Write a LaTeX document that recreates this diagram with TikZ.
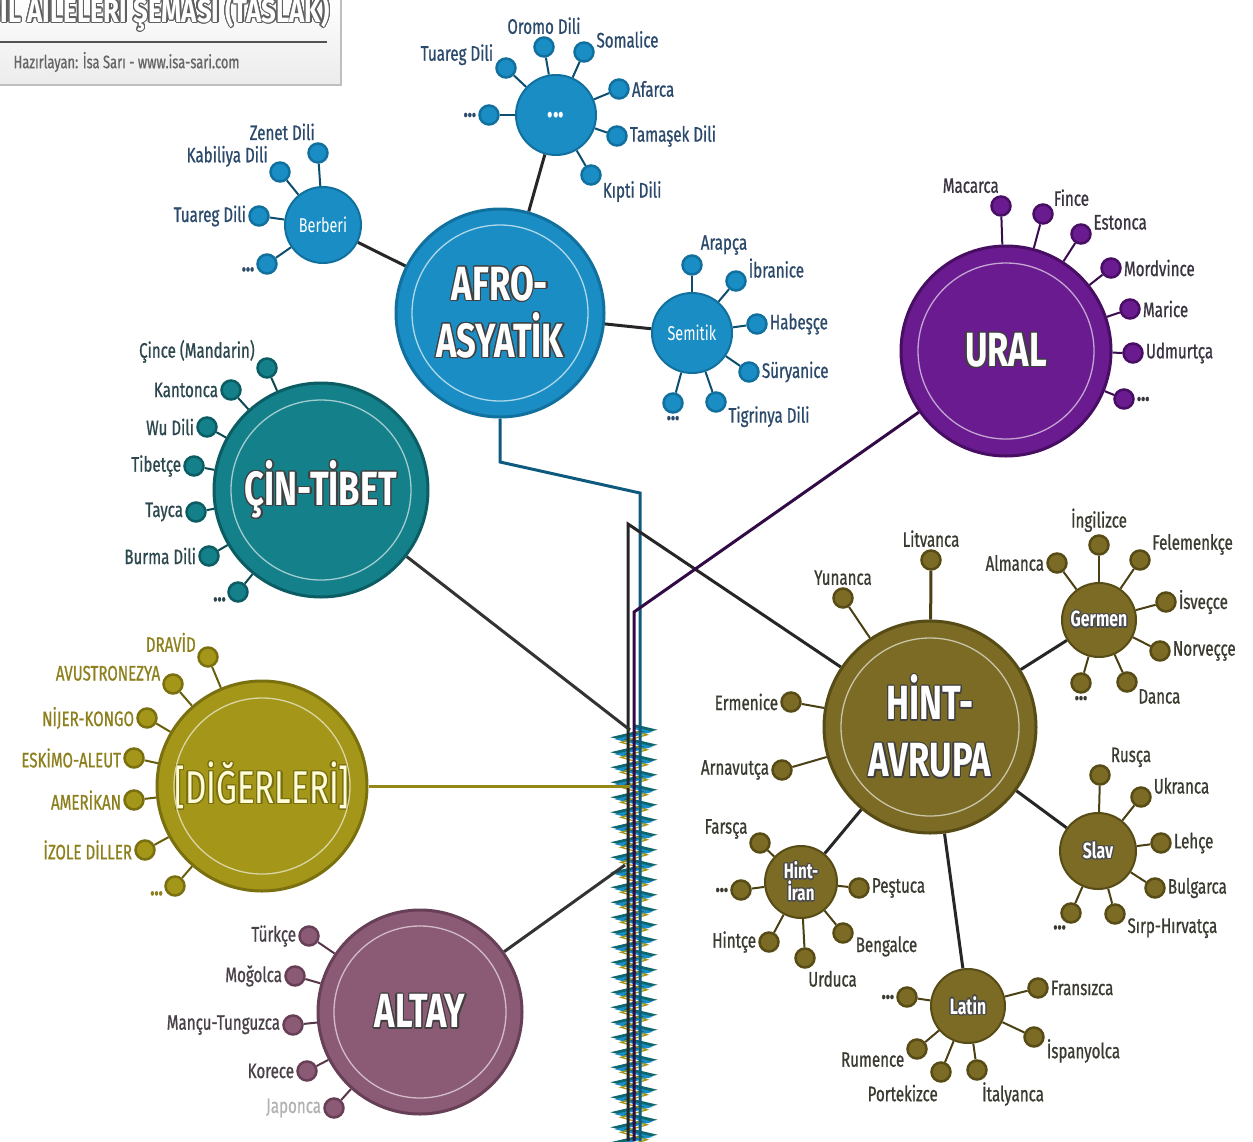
\documentclass[tikz,border=0pt]{standalone}
\usepackage{fontspec}
\setmainfont{Fira Sans}[FakeStretch=0.72]
\newfontfamily\lblfont{Fira Sans}[FakeStretch=0.72, FakeBold=0.8]
\newfontfamily\titlefont{Fira Sans}[FakeStretch=0.78]
\usepackage{contour}
\usetikzlibrary{backgrounds,decorations.pathmorphing}
\definecolor{cB}{HTML}{1A8DC4}\definecolor{dB}{HTML}{12709E}
\definecolor{cT}{HTML}{13808A}\definecolor{dT}{HTML}{0C5C64}
\definecolor{cP}{HTML}{6A1B8F}\definecolor{dP}{HTML}{470E63}
\definecolor{cO}{HTML}{7B6B25}\definecolor{dO}{HTML}{574B16}
\definecolor{cG}{HTML}{A39618}\definecolor{dG}{HTML}{7A700F}
\definecolor{cM}{HTML}{8B5A75}\definecolor{dM}{HTML}{673F56}
\definecolor{lblB}{HTML}{2B4A6B}\definecolor{lblT}{HTML}{2C474E}
\definecolor{lblP}{HTML}{3A3340}\definecolor{lblO}{HTML}{3B3A30}
\definecolor{lblG}{HTML}{8C7F1C}\definecolor{lblM}{HTML}{4A4048}
\newcommand\lf[5]{\node[#1, label={[lab#1]#4:#5}] (#2) at (#3) {};}
\newcommand\dd{\textbf{\fontsize{24}{22}\selectfont ...}}
\tikzset{
  x=1pt, y=-1pt,
  bigc/.style 2 args={circle, fill=#1, draw=#2, line width=3pt, inner sep=0pt, text=white},
  subc/.style 2 args={circle, fill=#1, draw=#2, line width=2pt, inner sep=0pt, text=white},
  leafc/.style 2 args={circle, fill=#1, draw=#2, line width=2.5pt, minimum size=19pt, inner sep=0pt},
  lB/.style={leafc={cB}{dB}}, lT/.style={leafc={cT}{dT}}, lP/.style={leafc={cP}{dP}},
  lO/.style={leafc={cO}{dO}}, lG/.style={leafc={cG}{dG}}, lM/.style={leafc={cM}{dM}},
  labbase/.style={font=\lblfont\fontsize{21}{22}\selectfont, inner sep=1pt, label distance=1pt},
  lablB/.style={labbase, text=lblB}, lablT/.style={labbase, text=lblT},
  lablP/.style={labbase, text=lblP}, lablO/.style={labbase, text=lblO},
  lablG/.style={labbase, text=lblG}, lablM/.style={labbase, text=lblM},
  twig/.style={line width=2pt, draw=#1},
  link/.style={line width=3pt, draw=black!85},
  ring/.style={line width=1.3pt, draw=#1},
  bigfont/.style={font=\fontsize{48}{57}\selectfont\bfseries, align=center},
  subfont/.style={font=\fontsize{22}{24}\selectfont\bfseries, align=center},
  spring/.style={decorate, decoration={zigzag, segment length=15pt, amplitude=#1}},
}
\begin{document}
\begin{tikzpicture}
\clip (0,0) rectangle (1253,1141);
\contourlength{1.3pt}
% title box
\node[anchor=north west, minimum width=348pt, minimum height=90pt, draw=gray!50, line width=1.5pt, top color=white, bottom color=gray!15, inner sep=0pt] (tbox) at (-8,-6) {};
\node[anchor=base east, font=\titlefont\fontsize{33}{33}\selectfont\bfseries, text=white] (title) at (333,22) {\contour{gray!75!black}{DİL AİLELERİ ŞEMASI (TASLAK)}};
\draw[line width=2.5pt, gray!65!black] (tbox.west |- 0,42) -- (327,42);
\node[anchor=west, font=\lblfont\fontsize{18}{18}\selectfont, text=gray!80!black] (sub) at (10,62) {Hazırlayan: İsa Sarı - www.isa-sari.com};

% ---------- main circles ----------
\node[bigc={cB}{dB}, minimum size=208pt, bigfont] (afro) at (500,313) {\contour{black!75}{AFRO-}\\\contour{black!75}{ASYATİK}};
\draw[ring=cB!35!white] (afro) circle (88);
\node[bigc={cT}{dT}, minimum size=214pt, bigfont] (cin) at (321,490) {\contour{black!75}{ÇİN-TİBET}};
\draw[ring=cT!40!white] (cin) circle (90);
\node[bigc={cP}{dP}, minimum size=210pt, bigfont] (ural) at (1006,351) {\contour{black!75}{URAL}};
\draw[ring=cP!40!white] (ural) circle (88);
\node[bigc={cO}{dO}, minimum size=212pt, bigfont] (hint) at (930,727) {\contour{black!75}{HİNT-}\\\contour{black!75}{AVRUPA}};
\draw[ring=cO!40!white] (hint) circle (89);
\node[bigc={cG}{dG}, minimum size=210pt, font=\fontsize{46}{50}\selectfont, text=yellow!15!white] (diger) at (262,786) {\contour{dG}{[DİĞERLERİ]}};
\draw[ring=cG!40!white] (diger) circle (88);
\node[bigc={cM}{dM}, minimum size=204pt, bigfont] (altay) at (420,1012) {\contour{black!75}{ALTAY}};
\draw[ring=cM!40!white] (altay) circle (86);

% ---------- sub circles ----------
\node[subc={cB}{dB}, minimum size=80pt, font=\fontsize{32}{24}\selectfont\bfseries] (afdots) at (556,115) {...};
\node[subc={cB}{dB}, minimum size=76pt, font=\fontsize{20}{22}\selectfont] (berberi) at (323,225) {Berberi};
\node[subc={cB}{dB}, minimum size=80pt, font=\fontsize{20}{22}\selectfont] (semitik) at (692,333) {Semitik};
\node[subc={cO}{dO}, minimum size=74pt, subfont] (germen) at (1099,620) {\contour{black!70}{Germen}};
\node[subc={cO}{dO}, minimum size=76pt, subfont] (slav) at (1098,851) {\contour{black!70}{Slav}};
\node[subc={cO}{dO}, minimum size=72pt, font=\fontsize{21}{22}\selectfont\bfseries, align=center] (hintiran) at (801,882) {\contour{black!70}{Hint-}\\\contour{black!70}{İran}};
\node[subc={cO}{dO}, minimum size=74pt, subfont] (latin) at (968,1006) {\contour{black!70}{Latin}};

% ---------- leaves ----------
\lf{lB}{oromo}{544,47}{90}{Oromo Dili}
\lf{lB}{somalice}{584,52}{15}{Somalice}
\lf{lB}{afarca}{619,89}{0}{Afarca}
\lf{lB}{tamasek}{617,136}{0}{Tamaşek Dili}
\lf{lB}{kipti}{591,175}{-25}{Kıpti Dili}
\lf{lB}{tuaregA}{506,68}{172}{Tuareg Dili}
\lf{lB}{dotsA}{489,115}{180}{\dd}
\lf{lB}{zenet}{318,153}{100}{Zenet Dili}
\lf{lB}{kabiliya}{280,172}{160}{Kabiliya Dili}
\lf{lB}{tuaregB}{259,216}{180}{Tuareg Dili}
\lf{lB}{dotsB}{267,264}{190}{\dd}
\lf{lB}{arapca}{692,265}{50}{Arapça}
\lf{lB}{ibranice}{736,281}{10}{İbranice}
\lf{lB}{habesce}{757,324}{0}{Habeşçe}
\lf{lB}{suryanice}{749,372}{0}{Süryanice}
\lf{lB}{tigrinya}{716,402}{-15}{Tigrinya Dili}
\lf{lB}{dotsC}{673,403}{-90}{\dd}
\lf{lT}{cince}{267,368}{160}{Çince (Mandarin)}
\lf{lT}{kantonca}{231,390}{180}{Kantonca}
\lf{lT}{wu}{207,427}{180}{Wu Dili}
\lf{lT}{tibetce}{194,466}{180}{Tibetçe}
\lf{lT}{tayca}{196,512}{180}{Tayca}
\lf{lT}{burma}{209,556}{180}{Burma Dili}
\lf{lT}{dotsD}{238,592}{200}{\dd}
\lf{lP}{macarca}{1001,206}{95}{Macarca}
\lf{lP}{fince}{1043,214}{35}{Fince}
\lf{lP}{estonca}{1081,234}{15}{Estonca}
\lf{lP}{mordvince}{1111,268}{0}{Mordvince}
\lf{lP}{marice}{1130,309}{0}{Marice}
\lf{lP}{udmurtca}{1133,353}{0}{Udmurtça}
\lf{lP}{dotsE}{1124,399}{0}{\dd}
\lf{lO}{litvanca}{931,560}{90}{Litvanca}
\lf{lO}{yunanca}{843,598}{90}{Yunanca}
\lf{lO}{ermenice}{791,702}{180}{Ermenice}
\lf{lO}{arnavutca}{782,770}{180}{Arnavutça}
\lf{lO}{almanca}{1057,563}{180}{Almanca}
\lf{lO}{ingilizce}{1099,545}{90}{İngilizce}
\lf{lO}{felemenkce}{1140,560}{20}{Felemenkçe}
\lf{lO}{isvecce}{1166,602}{0}{İsveçce}
\lf{lO}{norvecce}{1160,651}{0}{Norveççe}
\lf{lO}{danca}{1127,682}{-30}{Danca}
\lf{lO}{dotsF}{1081,683}{-90}{\dd}
\lf{lO}{rusca}{1100,775}{35}{Rusça}
\lf{lO}{ukranca}{1141,797}{10}{Ukranca}
\lf{lO}{lehce}{1161,843}{0}{Lehçe}
\lf{lO}{bulgarca}{1155,888}{0}{Bulgarca}
\lf{lO}{sirp}{1115,914}{-15}{Sırp-Hırvatça}
\lf{lO}{dotsG}{1071,913}{-110}{\dd}
\lf{lO}{farsca}{760,843}{165}{Farsça}
\lf{lO}{dotsH}{741,890}{180}{\dd}
\lf{lO}{pestuca}{859,888}{0}{Peştuca}
\lf{lO}{hintce}{769,942}{180}{Hintçe}
\lf{lO}{urduca}{805,958}{-80}{Urduca}
\lf{lO}{bengalce}{843,933}{-10}{Bengalce}
\lf{lO}{dotsI}{907,997}{180}{\dd}
\lf{lO}{fransizca}{1038,988}{0}{Fransızca}
\lf{lO}{rumence}{917,1049}{190}{Rumence}
\lf{lO}{ispanyolca}{1034,1037}{-5}{İspanyolca}
\lf{lO}{portekizce}{941,1072}{-100}{Portekizce}
\lf{lO}{italyanca}{977,1070}{-70}{İtalyanca}
\lf{lG}{dravid}{208,657}{160}{DRAVİD}
\lf{lG}{avustronezya}{173,684}{170}{AVUSTRONEZYA}
\lf{lG}{nijer}{147,718}{180}{NİJER-KONGO}
\lf{lG}{eskimo}{134,758}{180}{ESKİMO-ALEUT}
\lf{lG}{amerikan}{134,800}{180}{AMERİKAN}
\lf{lG}{izole}{145,850}{180}{İZOLE DİLLER}
\lf{lG}{dotsJ}{175,886}{200}{\dd}
\lf{lM}{turkce}{309,936}{180}{Türkçe}
\lf{lM}{mogolca}{295,976}{180}{Moğolca}
\lf{lM}{mancu}{293,1025}{180}{Mançu-Tunguzca}
\lf{lM}{korece}{307,1071}{180}{Korece}
\node[lM, label={[labbase, text=gray!60]180:Japonca}] (japonca) at (334,1108) {};

% ---------- trunk coordinates ----------
\coordinate (a1) at (500,462); \coordinate (a2) at (640,493); \coordinate (a3) at (640,1141);
\coordinate (h1) at (628,524); \coordinate (h2) at (628,1141);
\coordinate (u1) at (634,612); \coordinate (u2) at (634,1141);
\coordinate (t1) at (630,730);
\coordinate (d1) at (630,786);
\coordinate (l1) at (625,865);
\coordinate (z1) at (634,726); \coordinate (z2) at (634,1171);
\coordinate (z3) at (634,728); \coordinate (z4) at (634,731);

\begin{scope}[on background layer]
  % twigs
  \foreach \p/\c in {afdots/oromo, afdots/somalice, afdots/afarca, afdots/tamasek, afdots/kipti, afdots/tuaregA, afdots/dotsA,
    berberi/zenet, berberi/kabiliya, berberi/tuaregB, berberi/dotsB,
    semitik/arapca, semitik/ibranice, semitik/habesce, semitik/suryanice, semitik/tigrinya, semitik/dotsC}
    \draw[twig=dB!70!black] (\p) -- (\c);
  \foreach \c in {cince, kantonca, wu, tibetce, tayca, burma, dotsD}
    \draw[twig=dT!80!black] (cin) -- (\c);
  \foreach \c in {macarca, fince, estonca, mordvince, marice, udmurtca, dotsE}
    \draw[twig=dP!80!black] (ural) -- (\c);
  \foreach \p/\c in {hint/yunanca, hint/ermenice, hint/arnavutca,
    germen/almanca, germen/ingilizce, germen/felemenkce, germen/isvecce, germen/norvecce, germen/danca, germen/dotsF,
    slav/rusca, slav/ukranca, slav/lehce, slav/bulgarca, slav/sirp, slav/dotsG,
    hintiran/farsca, hintiran/dotsH, hintiran/pestuca, hintiran/hintce, hintiran/urduca, hintiran/bengalce,
    latin/dotsI, latin/fransizca, latin/rumence, latin/ispanyolca, latin/portekizce, latin/italyanca}
    \draw[twig=dO!85!black] (\p) -- (\c);
  \draw[line width=3pt, dO!85!black] (hint) -- (litvanca);
  \foreach \c in {dravid, avustronezya, nijer, eskimo, amerikan, izole, dotsJ}
    \draw[twig=dG!85!black] (diger) -- (\c);
  \foreach \c in {turkce, mogolca, mancu, korece, japonca}
    \draw[twig=dM!85!black] (altay) -- (\c);
  % links
  \draw[link] (afro) -- (afdots);
  \draw[link] (afro) -- (berberi);
  \draw[link] (afro) -- (semitik);
  \draw[link] (hint) -- (germen);
  \draw[link] (hint) -- (slav);
  \draw[link] (hint) -- (hintiran);
  \draw[link] (hint) -- (latin);
  % trunk
  \draw[line width=3.5pt, cT!80!black, spring=16pt] (z1) -- (z2);
  \draw[line width=2pt, cB, spring=15pt] (z3) -- (z2);
  \draw[line width=1.3pt, cG, spring=13pt] (z4) -- (z2);
  \draw[line width=3pt, dB!80!black] (afro.south) -- (a1) -- (a2) -- (a3);
  \draw[line width=3pt, black!85] (hint) -- (h1) -- (h2);
  \draw[line width=3pt, dP!70!black] (ural) -- (u1) -- (u2);
  \draw[line width=3pt, black!80] (cin) -- (t1);
  \draw[line width=3pt, cG!90!black] (diger) -- (d1);
  \draw[line width=3pt, black!80] (altay) -- (l1);
\end{scope}
\end{tikzpicture}
\end{document}
